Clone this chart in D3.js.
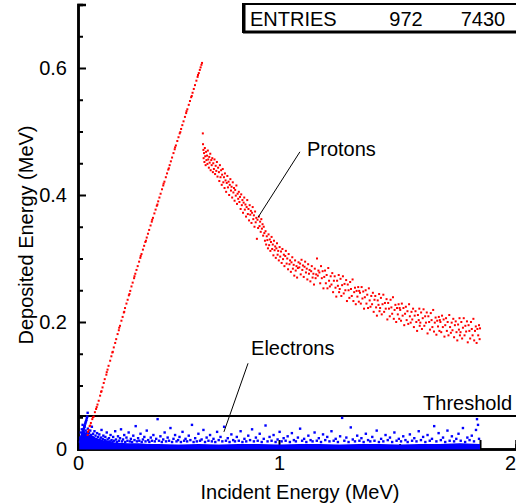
<!DOCTYPE html>
<html><head><meta charset="utf-8">
<script src="https://cdn.jsdelivr.net/npm/d3@7"></script>
<style>html,body{margin:0;padding:0;background:#fff;}svg{display:block;}text{font-family:"Liberation Sans",Arial,sans-serif;fill:#000;}</style>
</head><body>
<script>
// ---------- data ----------
const entriesLabels = ["ENTRIES", "972", "7430"];
const xTickValues = [0, 1, 2];
const xTickLabels = ["0", "1", "2"];
const xMinorTicks = [0.2,0.4,0.6,0.8,1.2,1.4,1.6,1.8];
const yTickValues = [0, 0.2, 0.4, 0.6];
const yTickLabels = ["0", "0.2", "0.4", "0.6"];
const yMinorTicks = [0.05,0.1,0.15,0.25,0.3,0.35,0.45,0.5,0.55,0.65];
const thresholdValue = 0.052;

// protons fully stopped (straight branch)
const protonLine = [[0.048,0.022],[0.050,0.027],[0.053,0.030],[0.058,0.036],[0.061,0.037],[0.064,0.041],[0.071,0.047],[0.074,0.050],[0.078,0.051],[0.084,0.058],[0.090,0.063],[0.093,0.066],[0.097,0.070],[0.103,0.076],[0.110,0.084],[0.115,0.090],[0.117,0.091],[0.122,0.097],[0.128,0.104],[0.133,0.110],[0.141,0.117],[0.143,0.121],[0.147,0.125],[0.152,0.131],[0.160,0.139],[0.166,0.146],[0.171,0.152],[0.173,0.153],[0.178,0.160],[0.185,0.167],[0.190,0.173],[0.197,0.181],[0.203,0.187],[0.205,0.191],[0.209,0.194],[0.216,0.202],[0.222,0.208],[0.228,0.215],[0.230,0.216],[0.234,0.222],[0.241,0.229],[0.247,0.235],[0.253,0.242],[0.256,0.244],[0.260,0.249],[0.266,0.256],[0.272,0.262],[0.279,0.269],[0.281,0.272],[0.285,0.276],[0.291,0.282],[0.297,0.288],[0.304,0.295],[0.310,0.301],[0.312,0.304],[0.316,0.307],[0.323,0.314],[0.329,0.320],[0.335,0.326],[0.338,0.328],[0.342,0.333],[0.348,0.339],[0.354,0.345],[0.361,0.352],[0.367,0.358],[0.369,0.361],[0.373,0.364],[0.380,0.371],[0.386,0.377],[0.392,0.383],[0.395,0.385],[0.399,0.390],[0.405,0.396],[0.411,0.402],[0.418,0.409],[0.424,0.415],[0.426,0.418],[0.430,0.421],[0.437,0.428],[0.443,0.434],[0.449,0.440],[0.452,0.442],[0.456,0.447],[0.462,0.453],[0.468,0.459],[0.475,0.466],[0.481,0.472],[0.483,0.475],[0.487,0.478],[0.494,0.485],[0.500,0.491],[0.506,0.497],[0.509,0.499],[0.513,0.504],[0.519,0.510],[0.525,0.516],[0.532,0.523],[0.538,0.529],[0.540,0.532],[0.544,0.535],[0.551,0.542],[0.557,0.548],[0.563,0.554],[0.566,0.556],[0.570,0.561],[0.576,0.567],[0.582,0.573],[0.589,0.580],[0.595,0.586],[0.597,0.589],[0.601,0.592],[0.606,0.597],[0.610,0.601],[0.614,0.605],[0.617,0.608]];

// protons punching through (curved branch)
const protonCurve = [
[0.621,0.497],[0.622,0.480],[0.624,0.471],[0.625,0.458],[0.627,0.466],[0.629,0.452],[0.631,0.474],[0.633,0.461],[0.635,0.447],[0.637,0.468],[0.639,0.455],[0.642,0.462],[0.644,0.449],[0.646,0.470],[0.648,0.456],[0.651,0.443],[0.653,0.460],[0.655,0.451],[0.658,0.465],[0.660,0.439],[0.663,0.455],[0.665,0.447],[0.668,0.458],[0.671,0.436],[0.673,0.450],[0.676,0.441],[0.679,0.456],[0.682,0.433],[0.685,0.446],[0.688,0.438],[0.691,0.452],[0.694,0.429],[0.697,0.443],
[0.701,0.436],[0.703,0.422],[0.706,0.447],[0.709,0.428],[0.712,0.439],[0.715,0.416],[0.717,0.432],[0.720,0.441],[0.723,0.420],[0.726,0.428],[0.729,0.411],[0.731,0.434],[0.734,0.423],[0.737,0.405],[0.740,0.419],[0.743,0.430],[0.746,0.412],[0.749,0.421],[0.752,0.400],[0.755,0.416],[0.758,0.425],[0.761,0.407],[0.764,0.413],[0.767,0.396],[0.770,0.420],[0.773,0.404],[0.776,0.411],[0.779,0.391],[0.782,0.408],[0.785,0.399],[0.788,0.415],[0.791,0.386],[0.794,0.402],[0.797,0.394],
[0.800,0.405],[0.803,0.389],[0.806,0.397],[0.809,0.378],[0.812,0.401],[0.815,0.384],[0.818,0.392],[0.821,0.372],[0.824,0.388],[0.827,0.396],[0.830,0.377],[0.833,0.385],[0.836,0.366],[0.839,0.381],[0.842,0.392],[0.845,0.370],[0.848,0.378],[0.851,0.360],[0.854,0.384],[0.857,0.369],[0.860,0.375],[0.863,0.356],[0.866,0.372],[0.869,0.381],[0.872,0.362],[0.875,0.368],[0.878,0.350],[0.881,0.374],[0.884,0.357],[0.887,0.364],[0.890,0.331],[0.893,0.361],[0.896,0.348],
[0.900,0.366],[0.903,0.351],[0.906,0.358],[0.909,0.342],[0.912,0.362],[0.915,0.347],[0.918,0.354],[0.921,0.336],[0.924,0.350],[0.927,0.340],[0.930,0.328],[0.933,0.343],[0.936,0.322],[0.939,0.335],[0.942,0.329],[0.945,0.316],[0.948,0.338],[0.951,0.321],[0.954,0.330],[0.957,0.312],[0.960,0.326],[0.963,0.334],[0.966,0.315],[0.969,0.322],[0.972,0.305],[0.975,0.328],[0.978,0.313],[0.981,0.319],[0.984,0.301],[0.987,0.316],[0.990,0.324],[0.993,0.306],[0.996,0.312],[0.999,0.297],
[1.003,0.318],[1.006,0.303],[1.010,0.311],[1.013,0.293],[1.017,0.315],[1.020,0.299],[1.024,0.306],[1.027,0.288],[1.031,0.304],[1.034,0.312],[1.038,0.292],[1.041,0.300],[1.045,0.283],[1.048,0.307],[1.052,0.291],[1.055,0.297],[1.059,0.279],[1.062,0.294],[1.066,0.302],[1.069,0.284],[1.073,0.290],[1.076,0.273],[1.080,0.297],[1.083,0.281],[1.087,0.288],[1.090,0.270],[1.094,0.285],[1.097,0.294],
[1.101,0.286],[1.105,0.292],[1.108,0.275],[1.112,0.298],[1.116,0.282],[1.119,0.289],[1.123,0.271],[1.127,0.287],[1.130,0.295],[1.134,0.278],[1.138,0.284],[1.141,0.267],[1.145,0.291],[1.149,0.276],[1.152,0.282],[1.156,0.264],[1.160,0.280],[1.163,0.288],[1.167,0.270],[1.171,0.276],[1.174,0.259],[1.178,0.284],[1.182,0.269],[1.185,0.275],[1.189,0.300],[1.193,0.273],[1.196,0.281],
[1.201,0.278],[1.205,0.261],[1.209,0.288],[1.213,0.269],[1.217,0.280],[1.221,0.253],[1.225,0.271],[1.229,0.281],[1.233,0.261],[1.237,0.274],[1.241,0.253],[1.245,0.285],[1.249,0.265],[1.253,0.256],[1.257,0.272],[1.261,0.259],[1.265,0.277],[1.269,0.247],[1.273,0.265],[1.277,0.272],[1.281,0.254],[1.285,0.240],[1.289,0.265],[1.293,0.257],[1.297,0.274],[1.299,0.247],
[1.302,0.252],[1.306,0.268],[1.310,0.241],[1.314,0.258],[1.318,0.272],[1.322,0.245],[1.326,0.260],[1.330,0.250],[1.334,0.266],[1.338,0.233],[1.342,0.259],[1.346,0.250],[1.350,0.238],[1.354,0.263],[1.358,0.252],[1.362,0.241],[1.366,0.267],[1.370,0.233],[1.374,0.247],[1.378,0.254],[1.382,0.228],[1.386,0.249],[1.390,0.240],[1.394,0.255],[1.397,0.232],[1.399,0.249],
[1.403,0.246],[1.407,0.229],[1.411,0.255],[1.415,0.237],[1.419,0.248],[1.423,0.221],[1.427,0.239],[1.431,0.250],[1.435,0.229],[1.439,0.243],[1.443,0.222],[1.447,0.253],[1.451,0.234],[1.455,0.224],[1.459,0.241],[1.463,0.228],[1.467,0.246],[1.471,0.216],[1.475,0.235],[1.479,0.241],[1.483,0.223],[1.487,0.210],[1.491,0.234],[1.495,0.227],[1.498,0.244],[1.500,0.217],
[1.503,0.222],[1.507,0.238],[1.511,0.212],[1.515,0.228],[1.519,0.243],[1.523,0.216],[1.527,0.230],[1.531,0.221],[1.535,0.236],[1.539,0.204],[1.543,0.230],[1.547,0.221],[1.551,0.209],[1.555,0.235],[1.559,0.223],[1.563,0.213],[1.567,0.239],[1.571,0.205],[1.575,0.219],[1.579,0.227],[1.583,0.200],[1.587,0.222],[1.591,0.212],[1.595,0.228],[1.598,0.205],[1.600,0.222],
[1.603,0.219],[1.607,0.202],[1.611,0.229],[1.615,0.210],[1.619,0.222],[1.623,0.195],[1.627,0.213],[1.631,0.224],[1.635,0.203],[1.639,0.217],[1.643,0.197],[1.647,0.228],[1.651,0.209],[1.655,0.199],[1.659,0.216],[1.663,0.204],[1.667,0.221],[1.671,0.192],[1.675,0.210],[1.679,0.217],[1.683,0.200],[1.687,0.186],[1.691,0.211],[1.695,0.203],[1.698,0.221],[1.700,0.194],
[1.703,0.199],[1.707,0.215],[1.711,0.189],[1.715,0.206],[1.719,0.220],[1.723,0.194],[1.727,0.209],[1.731,0.199],[1.735,0.215],[1.739,0.182],[1.743,0.209],[1.747,0.200],[1.751,0.188],[1.755,0.214],[1.759,0.203],[1.763,0.192],[1.767,0.219],[1.771,0.185],[1.775,0.199],[1.779,0.207],[1.783,0.180],[1.787,0.202],[1.791,0.193],[1.795,0.208],[1.798,0.186],[1.800,0.203],
[1.803,0.200],[1.807,0.184],[1.811,0.210],[1.815,0.192],[1.819,0.204],[1.823,0.177],[1.827,0.195],[1.831,0.206],[1.835,0.186],[1.839,0.200],[1.843,0.179],[1.847,0.211],[1.851,0.192],[1.855,0.183],[1.859,0.199],[1.863,0.187],[1.867,0.205],[1.871,0.176],[1.875,0.195],[1.879,0.201],[1.883,0.184],[1.887,0.171],[1.891,0.196],[1.895,0.188],[1.898,0.206],[1.900,0.179],
[1.903,0.184],[1.907,0.200],[1.911,0.174],[1.915,0.191],[1.919,0.206],[1.923,0.179],[1.927,0.194],[1.931,0.185],[1.935,0.201],[1.939,0.168],[1.943,0.195],[1.947,0.186],[1.951,0.174],[1.955,0.200],[1.959,0.189],[1.963,0.179],[1.967,0.205],[1.971,0.171],[1.975,0.186],[1.979,0.193],[1.983,0.167],[1.987,0.189],[1.991,0.179],[1.995,0.195],[1.998,0.173],[2.000,0.190]];

// electrons: dense band near zero (upper edge of band)
const electronBandE   = [0.006,0.015,0.03,0.05,0.07,0.09,0.11,0.13,0.16,0.20,0.25,0.30,0.35,0.40,0.50,0.60,0.70,0.80,0.90,1.00,1.10,1.20,1.30,1.40,1.50,1.60,1.70,1.80,1.90,2.00];
const electronBandTop = [0.012,0.024,0.027,0.024,0.020,0.017,0.015,0.013,0.011,0.010,0.009,0.009,0.008,0.008,0.007,0.008,0.007,0.008,0.008,0.007,0.008,0.008,0.007,0.008,0.008,0.007,0.008,0.008,0.009,0.008];
// electrons fully absorbed (steep branch near origin)
const electronLine = [[0.010,0.011],[0.012,0.013],[0.014,0.016],[0.016,0.018],[0.018,0.020],[0.020,0.022],[0.022,0.024],[0.024,0.027],[0.026,0.029],[0.028,0.031],[0.030,0.033],[0.032,0.035],[0.034,0.037],[0.036,0.040],[0.038,0.042],[0.040,0.044],[0.042,0.046],[0.044,0.049],[0.046,0.051],[0.048,0.057]];
// electrons scattered above the band
const electronScatter = [[0.012,0.018],[0.014,0.026],[0.017,0.012],[0.019,0.031],[0.021,0.016],[0.023,0.038],[0.024,0.022],[0.026,0.013],[0.028,0.027],[0.029,0.019],[0.031,0.035],[0.033,0.015],[0.034,0.024],[0.036,0.011],[0.038,0.029],[0.040,0.018],[0.041,0.021],[0.043,0.013],[0.045,0.026],[0.047,0.016],[0.049,0.032],[0.051,0.012],[0.053,0.020],[0.055,0.025],[0.057,0.014],[0.059,0.018],[0.061,0.029],[0.063,0.012],[0.065,0.022],[0.067,0.016],[0.069,0.035],[0.071,0.013],[0.073,0.019],[0.075,0.024],[0.078,0.012],[0.080,0.017],[0.082,0.028],[0.085,0.014],[0.087,0.021],[0.090,0.012],[0.092,0.016],[0.095,0.025],[0.097,0.013],[0.100,0.019],[0.103,0.011],[0.106,0.023],[0.108,0.015],[0.111,0.012],[0.114,0.018],[0.117,0.030],[0.120,0.013],[0.123,0.016],[0.126,0.021],[0.129,0.011],[0.133,0.014],[0.136,0.019],[0.140,0.012],[0.143,0.026],[0.147,0.015],[0.150,0.011],
[0.154,0.017],[0.158,0.012],[0.162,0.022],[0.167,0.014],[0.171,0.011],[0.175,0.019],[0.180,0.013],[0.185,0.028],[0.189,0.015],[0.194,0.011],[0.199,0.020],[0.204,0.013],[0.209,0.017],[0.214,0.031],[0.219,0.012],[0.224,0.015],[0.230,0.022],[0.235,0.011],[0.241,0.018],[0.246,0.013],[0.252,0.026],[0.258,0.012],[0.263,0.016],[0.269,0.011],[0.275,0.021],[0.281,0.014],[0.287,0.036],[0.293,0.012],[0.299,0.017],[0.305,0.013],[0.311,0.024],[0.317,0.011],[0.323,0.015],[0.330,0.019],[0.336,0.012],[0.342,0.029],[0.349,0.014],[0.355,0.011],[0.362,0.018],[0.368,0.013],[0.375,0.022],[0.382,0.012],[0.389,0.016],[0.396,0.047],[0.403,0.013],[0.410,0.020],[0.417,0.011],[0.424,0.015],[0.431,0.026],[0.438,0.012],[0.446,0.018],[0.453,0.013],[0.460,0.033],[0.468,0.011],[0.475,0.016],[0.483,0.022],[0.490,0.012],[0.498,0.014],
[0.505,0.019],[0.512,0.011],[0.520,0.027],[0.528,0.013],[0.535,0.016],[0.543,0.012],[0.551,0.021],[0.559,0.014],[0.567,0.038],[0.575,0.011],[0.583,0.017],[0.591,0.012],[0.599,0.024],[0.607,0.013],[0.615,0.015],[0.624,0.030],[0.632,0.011],[0.640,0.018],[0.649,0.013],[0.657,0.022],[0.666,0.012],[0.674,0.016],[0.683,0.011],[0.692,0.027],[0.700,0.014],[0.709,0.019],[0.718,0.012],[0.727,0.035],[0.736,0.013],[0.745,0.017],[0.754,0.011],[0.763,0.023],[0.772,0.014],[0.781,0.012],[0.790,0.019],[0.800,0.013],[0.809,0.028],[0.818,0.011],[0.828,0.016],[0.837,0.012],[0.847,0.021],[0.856,0.014],[0.866,0.031],[0.875,0.012],[0.885,0.018],[0.894,0.013],[0.904,0.024],[0.914,0.011],[0.924,0.016],[0.933,0.037],[0.943,0.012],[0.953,0.019],[0.963,0.013],[0.973,0.022],[0.983,0.011],[0.993,0.015],[1.003,0.027],[1.013,0.012],[1.023,0.017],[1.033,0.013],[1.043,0.020],[1.054,0.011],[1.064,0.025],[1.074,0.014],[1.084,0.012],[1.094,0.018],[1.105,0.032],[1.115,0.013],[1.125,0.016],[1.136,0.011],[1.146,0.021],[1.157,0.014],[1.167,0.012],[1.177,0.026],[1.188,0.013],[1.198,0.017],[1.209,0.011],[1.219,0.023],[1.230,0.014],[1.240,0.019],[1.251,0.012],[1.261,0.028],[1.272,0.013],[1.282,0.016],[1.293,0.011],[1.304,0.020],[1.314,0.049],[1.325,0.013],[1.335,0.018],[1.346,0.011],[1.357,0.034],[1.367,0.015],[1.378,0.012],[1.389,0.021],[1.400,0.013],[1.410,0.017],[1.421,0.011],[1.432,0.024],[1.443,0.014],[1.454,0.012],[1.464,0.019],[1.475,0.013],[1.486,0.029],[1.497,0.011],[1.508,0.016],[1.519,0.012],[1.530,0.022],[1.541,0.014],[1.552,0.018],[1.563,0.011],[1.574,0.026],[1.585,0.013],[1.596,0.016],[1.607,0.012],[1.618,0.020],[1.629,0.014],[1.640,0.011],[1.651,0.023],[1.662,0.013],[1.673,0.017],[1.684,0.012],[1.695,0.028],[1.706,0.014],[1.717,0.019],[1.728,0.011],[1.739,0.022],[1.750,0.013],[1.761,0.016],[1.772,0.036],[1.783,0.012],[1.794,0.025],[1.805,0.014],[1.816,0.018],[1.827,0.011],[1.838,0.029],[1.849,0.013],[1.860,0.020],[1.871,0.012],[1.882,0.016],[1.893,0.024],[1.904,0.013],[1.915,0.033],[1.926,0.011],[1.937,0.018],[1.948,0.014],[1.959,0.021],[1.970,0.012],[1.980,0.030],[1.985,0.047],[1.990,0.038],[1.995,0.016]];

// ---------- drawing ----------
const W = 516, H = 504;
const FS = "20px";
const svg = d3.select("body").append("svg").attr("width", W).attr("height", H);
const x = d3.scaleLinear().domain([0, 2.179]).range([78, 516]);
const y = d3.scaleLinear().domain([0, 0.7]).range([449, 4.5]);

// axes
svg.append("g").attr("transform", "translate(78,0)")
  .call(d3.axisLeft(y).tickValues(yTickValues).tickSize(-8).tickPadding(11)
    .tickFormat((d, i) => yTickLabels[i]));
svg.append("g").attr("transform", "translate(78,0)")
  .call(d3.axisLeft(y).tickValues(yMinorTicks).tickSize(-5).tickFormat(""));
const xAxis = svg.append("g").attr("transform", "translate(0,449)")
  .call(d3.axisBottom(x).tickValues(xTickValues).tickSize(-9).tickPadding(7)
    .tickFormat((d, i) => xTickLabels[i]));
svg.append("g").attr("transform", "translate(0,449)")
  .call(d3.axisBottom(x).tickValues(xMinorTicks).tickSize(-5).tickFormat(""));
svg.selectAll(".domain").attr("stroke", "#000").attr("stroke-width", 2.5);
svg.selectAll(".tick line").attr("stroke", "#000").attr("stroke-width", 2);
svg.selectAll(".tick text").style("font-size", FS).style("font-family", '"Liberation Sans",Arial,sans-serif');
// the "2" label is set off to the right in the reference
xAxis.selectAll(".tick text").filter(d => d === 2).attr("dx", 30);

// threshold line
svg.append("line").attr("x1", x(0)).attr("x2", W).attr("y1", y(thresholdValue)).attr("y2", y(thresholdValue))
  .attr("stroke", "#000").attr("stroke-width", 2);
svg.append("text").attr("x", 512).attr("y", y(0.0614)).attr("text-anchor", "end").style("font-size", FS).text("Threshold");

// electrons
const bandData = electronBandE.map((e, i) => [e, electronBandTop[i]]);
svg.append("path").datum(bandData)
  .attr("d", d3.area().x(d => x(d[0])).y0(y(0) + 0.5).y1(d => y(d[1])))
  .attr("fill", "#0000ff");
const ePts = electronLine.concat(electronScatter);
svg.append("g").selectAll("rect").data(ePts).join("rect")
  .attr("x", d => x(d[0]) - 1.2).attr("y", d => y(d[1]) - 1.2)
  .attr("width", 2.4).attr("height", 2.4).attr("fill", "#0000ff");

// protons
const pPts = protonLine.concat(protonCurve);
svg.append("g").selectAll("rect").data(pPts).join("rect")
  .attr("x", d => x(d[0]) - 1).attr("y", d => y(d[1]) - 1)
  .attr("width", 2).attr("height", 2).attr("fill", "#ff0000");

// annotations
svg.append("line").attr("x1", x(1.104)).attr("y1", y(0.468)).attr("x2", x(0.896)).attr("y2", y(0.365))
  .attr("stroke", "#000").attr("stroke-width", 1);
svg.append("text").attr("x", x(1.139)).attr("y", y(0.461)).style("font-size", FS).text("Protons");
svg.append("line").attr("x1", x(0.846)).attr("y1", y(0.135)).attr("x2", x(0.726)).attr("y2", y(0.027))
  .attr("stroke", "#000").attr("stroke-width", 1);
svg.append("text").attr("x", x(0.861)).attr("y", y(0.148)).style("font-size", FS).text("Electrons");

// axis titles
svg.append("text").attr("x", 300).attr("y", 499).attr("text-anchor", "middle").style("font-size", FS)
  .text("Incident Energy (MeV)");
svg.append("text").attr("transform", "translate(33,235) rotate(-90)").attr("text-anchor", "middle").style("font-size", FS)
  .text("Deposited Energy (MeV)");

// entries box
const box = svg.append("g");
box.append("rect").attr("x", 243).attr("y", 4).attr("width", 290).attr("height", 28)
  .attr("fill", "#fff").attr("stroke", "#000").attr("stroke-width", 2);
box.append("line").attr("x1", 244).attr("x2", 244).attr("y1", 4).attr("y2", 33).attr("stroke", "#000").attr("stroke-width", 3);
box.append("line").attr("x1", 243).attr("x2", W).attr("y1", 32).attr("y2", 32).attr("stroke", "#000").attr("stroke-width", 3);
const entryX = [250, 406, 483];
const entryAnchor = ["start", "middle", "middle"];
box.selectAll("text").data(entriesLabels).join("text")
  .attr("x", (d, i) => entryX[i]).attr("y", 26).attr("text-anchor", (d, i) => entryAnchor[i])
  .style("font-size", FS).text(d => d);
</script>
</body></html>
